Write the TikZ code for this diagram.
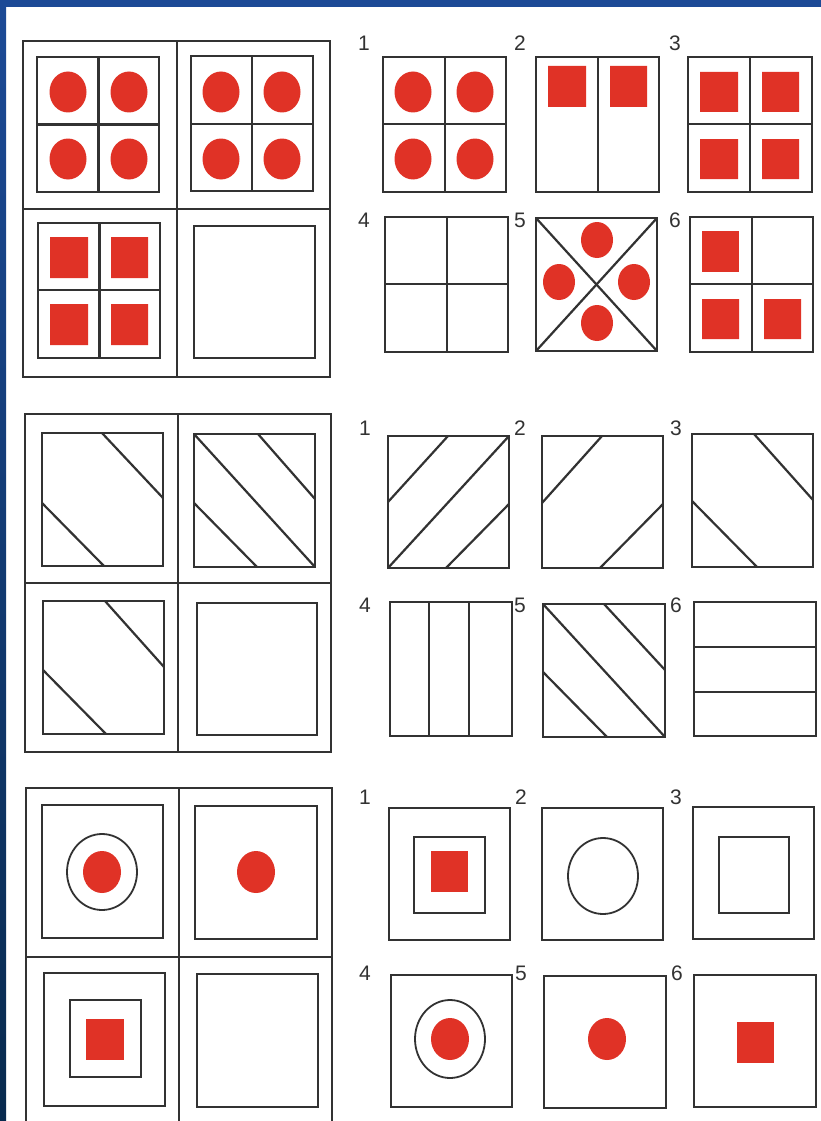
\documentclass[tikz,border=0pt]{standalone}
\usepackage{fontspec}
\setmainfont{Liberation Sans}
\definecolor{redfill}{RGB}{224,50,38}
\definecolor{linegray}{RGB}{50,50,50}
\definecolor{bandblue}{RGB}{28,74,150}
\definecolor{banddark}{RGB}{8,42,78}
\tikzset{
	box/.style={draw=linegray, line width=2.2pt},
	thin box/.style={draw=linegray, line width=1.8pt},
	dot/.style={fill=redfill},
	lbl/.style={text=linegray, font=\fontsize{21}{25}\selectfont, inner sep=0pt}
}
\begin{document}
\begin{tikzpicture}[x=1pt, y=-1pt]
		\useasboundingbox (0,0) rectangle (821,1121);
		% --- 0. Nền và viền xanh ---
		\fill[white] (0,0) rectangle (821,1121);
		\fill[bandblue] (0,0) rectangle (821,7.5);
		\shade[top color=bandblue, bottom color=banddark] (0,0) rectangle (6,1121);
		
		% --- 1. Bài 1: chấm tròn và ô vuông ---
		% Khung lớn
		\draw[box] (23,41) rectangle (330,377);
		\draw[box] (177,41) -- (177,377);
		\draw[box] (23,209) -- (330,209);
		% Ô trên trái
		\draw[box] (37,57) rectangle (159,192);
		\draw[box] (98.5,57) -- (98.5,192) (37,124.5) -- (159,124.5);
		\fill[dot] (68,92) ellipse (18.5 and 20.5) (129,92) ellipse (18.5 and 20.5);
		\fill[dot] (68,159) ellipse (18.5 and 20.5) (129,159) ellipse (18.5 and 20.5);
		% Ô trên phải
		\draw[box] (191,56) rectangle (313,191);
		\draw[box] (252,56) -- (252,191) (191,124) -- (313,124);
		\fill[dot] (221,92) ellipse (18.5 and 20.5) (282,92) ellipse (18.5 and 20.5);
		\fill[dot] (221,159) ellipse (18.5 and 20.5) (282,159) ellipse (18.5 and 20.5);
		% Ô dưới trái
		\draw[box] (38,223) rectangle (160,358);
		\draw[box] (99.5,223) -- (99.5,358) (38,290) -- (160,290);
		\fill[dot] (50,237) rectangle (88,278) (111,237) rectangle (148,278);
		\fill[dot] (50,304) rectangle (88,345) (111,304) rectangle (148,345);
		% Ô dưới phải (trống)
		\draw[box] (194,226) rectangle (315,358);
		
		% Các phương án
		\node[lbl] (a1) at (364,43) {1};
		\node[lbl] (a2) at (520,43) {2};
		\node[lbl] (a3) at (675,43) {3};
		\node[lbl] (a4) at (364,220) {4};
		\node[lbl] (a5) at (520,220) {5};
		\node[lbl] (a6) at (675,220) {6};
		
		\draw[box] (383,57) rectangle (506,192);
		\draw[box] (445,57) -- (445,192) (383,124) -- (506,124);
		\fill[dot] (413,92) ellipse (18.5 and 20.5) (475,92) ellipse (18.5 and 20.5);
		\fill[dot] (413,159) ellipse (18.5 and 20.5) (475,159) ellipse (18.5 and 20.5);
		
		\draw[box] (536,57) rectangle (659,192);
		\draw[box] (598,57) -- (598,192);
		\fill[dot] (548,66) rectangle (586,107) (610,66) rectangle (647,107);
		
		\draw[box] (688,57) rectangle (812,192);
		\draw[box] (750,57) -- (750,192) (688,124) -- (812,124);
		\fill[dot] (700,72) rectangle (738,112) (762,72) rectangle (799,112);
		\fill[dot] (700,139) rectangle (738,179) (762,139) rectangle (799,179);
		
		\draw[box] (385,217) rectangle (508,352);
		\draw[box] (447,217) -- (447,352) (385,284) -- (508,284);
		
		\draw[box] (536,218) rectangle (657,351);
		\draw[box] (536,218) -- (657,351) (657,218) -- (536,351);
		\fill[dot] (597,240) ellipse (16 and 18) (559,282) ellipse (16 and 18);
		\fill[dot] (634,282) ellipse (16 and 18) (597,323) ellipse (16 and 18);
		
		\draw[box] (690,217) rectangle (813,352);
		\draw[box] (752,217) -- (752,352) (690,284) -- (813,284);
		\fill[dot] (702,231) rectangle (739,272);
		\fill[dot] (702,299) rectangle (739,339) (764,299) rectangle (801,339);
		
		% --- 2. Bài 2: các đường chéo ---
		\draw[box] (25,414) rectangle (331,752);
		\draw[box] (178,414) -- (178,752);
		\draw[box] (25,583) -- (331,583);
		
		\draw[box] (42,433) rectangle (163,566);
		\draw[box] (102,433) -- (163,498) (42,503) -- (104,566);
		
		\draw[box] (194,434) rectangle (315,567);
		\draw[box] (194,434) -- (315,567) (258,434) -- (315,499) (194,503) -- (257,567);
		
		\draw[box] (43,601) rectangle (164,734);
		\draw[box] (105,601) -- (164,667) (43,670) -- (106,734);
		
		\draw[box] (197,603) rectangle (317,735);
		
		% Các phương án
		\node[lbl] (b1) at (365,428) {1};
		\node[lbl] (b2) at (520,428) {2};
		\node[lbl] (b3) at (676,428) {3};
		\node[lbl] (b4) at (365,605) {4};
		\node[lbl] (b5) at (520,605) {5};
		\node[lbl] (b6) at (676,605) {6};
		
		\draw[box] (388,436) rectangle (509,568);
		\draw[box] (448,436) -- (388,502) (388,568) -- (509,436) (509,504) -- (446,568);
		
		\draw[box] (542,436) rectangle (663,568);
		\draw[box] (602,436) -- (542,503) (663,504) -- (600,568);
		
		\draw[box] (692,434) rectangle (813,567);
		\draw[box] (754,434) -- (813,500) (692,501) -- (757,567);
		
		\draw[box] (390,602) rectangle (512,736);
		\draw[box] (429,602) -- (429,736) (469,602) -- (469,736);
		
		\draw[box] (543,604) rectangle (665,737);
		\draw[box] (543,604) -- (665,737) (604,604) -- (665,670) (543,672) -- (607,737);
		
		\draw[box] (694,602) rectangle (816,736);
		\draw[box] (694,647) -- (816,647) (694,692) -- (816,692);
		
		% --- 3. Bài 3: vòng tròn và hình vuông lồng nhau ---
		\draw[box] (26,1130) -- (26,788) -- (332,788) -- (332,1130);
		\draw[box] (179,788) -- (179,1130);
		\draw[box] (26,957) -- (332,957);
		
		\draw[box] (42,805) rectangle (163,938);
		\draw[thin box] (102,872) ellipse (35 and 38);
		\fill[dot] (102,872) ellipse (19 and 21);
		
		\draw[box] (195,806) rectangle (317,939);
		\fill[dot] (256,872) ellipse (19 and 21);
		
		\draw[box] (44,973) rectangle (165,1106);
		\draw[box] (70,1000) rectangle (141,1077);
		\fill[dot] (86,1019) rectangle (124,1060);
		
		\draw[box] (197,974) rectangle (318,1107);
		
		% Các phương án
		\node[lbl] (c1) at (365,797) {1};
		\node[lbl] (c2) at (521,797) {2};
		\node[lbl] (c3) at (676,797) {3};
		\node[lbl] (c4) at (365,973) {4};
		\node[lbl] (c5) at (521,973) {5};
		\node[lbl] (c6) at (677,973) {6};
		
		\draw[box] (389,808) rectangle (510,940);
		\draw[box] (414,837) rectangle (485,913);
		\fill[dot] (431,851) rectangle (468,892);
		
		\draw[box] (542,808) rectangle (663,940);
		\draw[thin box] (603,876) ellipse (35 and 38);
		
		\draw[box] (693,807) rectangle (814,939);
		\draw[box] (719,837) rectangle (789,913);
		
		\draw[box] (391,975) rectangle (512,1107);
		\draw[thin box] (450,1039) ellipse (35 and 39);
		\fill[dot] (450,1039) ellipse (19 and 21);
		
		\draw[box] (544,976) rectangle (666,1108);
		\fill[dot] (607,1039) ellipse (19 and 21);
		
		\draw[box] (694,975) rectangle (816,1107);
		\fill[dot] (737,1022) rectangle (774,1063);
	\end{tikzpicture}
\end{document}
